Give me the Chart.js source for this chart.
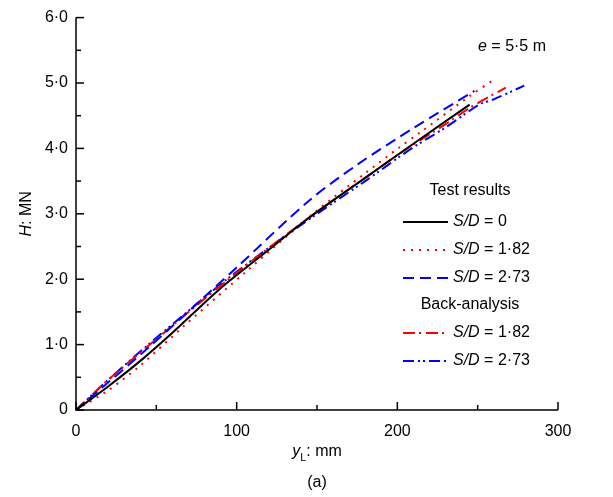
<!DOCTYPE html>
<html>
<head>
<meta charset="utf-8">
<script src="https://cdn.jsdelivr.net/npm/chart.js@4"></script>
<style>
  body { margin: 0; background: #fff; }
  canvas { display: block; }
</style>
</head>
<body>
<canvas id="chartCtx" width="613" height="497"></canvas>
<script>
// values: [y_L (mm), H (MN)]
var testSD0 = [[0,0],[20,0.36],[41,0.77],[60,1.18],[89,1.84],[120,2.45],[145,2.94],[180,3.55],[214,4.14],[245,4.67]]
var testSD182 = [[0,0],[20,0.30],[40,0.68],[67,1.28],[106,2.12],[150,3.05],[180,3.62],[201,4.01],[214,4.24],[245,4.80],[260,5.05]]
var testSD273 = [[0,0],[20,0.42],[45,0.95],[75,1.62],[100,2.18],[145,3.20],[175,3.75],[210,4.31],[248,4.88]]
var backSD182 = [[0,0],[20,0.46],[46,1.00],[79,1.68],[94,1.98],[120,2.48],[150,3.03],[180,3.55],[205,3.98],[230,4.37],[245,4.62],[267.5,4.93]]
var backSD273 = [[0,0],[20,0.46],[46,1.02],[79,1.70],[94,2.00],[120,2.48],[150,3.00],[180,3.50],[209.5,4.01],[230,4.32],[251,4.67],[260,4.75],[279,4.96]]

var xTicks = [0, 100, 200, 300]
var yTicks = ['0', '1·0', '2·0', '3·0', '4·0', '5·0', '6·0']
var legendGroups = ['Test results', 'Back-analysis']

var FONT = '"Liberation Sans", Arial, sans-serif'

function toPts(arr) {
    return arr.map(function(p) { return {x: p[0], y: p[1]} })
}

function series(label, data, color, dash, group) {
    return {
        label: label,
        group: group,
        data: toPts(data),
        showLine: true,
        borderColor: color,
        backgroundColor: color,
        borderWidth: 2,
        borderDash: dash,
        pointRadius: 0,
        tension: 0.3
    }
}

// axes, inward ticks, titles and the two-part legend
var overlay = {
    id: 'overlay',
    afterDraw: function(chart) {
        var ctx = chart.ctx
        var a = chart.chartArea
        var xs = chart.scales.x, ys = chart.scales.y
        ctx.save()
        ctx.strokeStyle = '#000'
        ctx.lineWidth = 1.5
        ctx.setLineDash([])
        ctx.beginPath()
        ctx.moveTo(a.left, a.top)
        ctx.lineTo(a.left, a.bottom)
        ctx.lineTo(a.right, a.bottom)
        ctx.stroke()
        for (var v = 0; v <= 300; v += 50) {
            var px = xs.getPixelForValue(v)
            var len = v % 100 === 0 ? 8 : 5
            ctx.beginPath(); ctx.moveTo(px, a.bottom); ctx.lineTo(px, a.bottom - len); ctx.stroke()
        }
        for (var w = 0; w <= 6; w += 0.5) {
            var py = ys.getPixelForValue(w)
            var l2 = w % 1 === 0 ? 8 : 5
            ctx.beginPath(); ctx.moveTo(a.left, py); ctx.lineTo(a.left + l2, py); ctx.stroke()
        }

        ctx.fillStyle = '#000'
        ctx.textBaseline = 'middle'
        var cx = (a.left + a.right) / 2
        // x title: y_L: mm
        ctx.font = 'italic 16px ' + FONT
        var w1 = ctx.measureText('y').width
        ctx.font = '11px ' + FONT
        var w2 = ctx.measureText('L').width
        ctx.font = '16px ' + FONT
        var w3 = ctx.measureText(': mm').width
        var sx = cx - (w1 + w2 + w3) / 2
        ctx.textAlign = 'left'
        ctx.font = 'italic 16px ' + FONT
        ctx.fillText('y', sx, 452)
        ctx.font = '11px ' + FONT
        ctx.fillText('L', sx + w1, 458)
        ctx.font = '16px ' + FONT
        ctx.fillText(': mm', sx + w1 + w2, 452)
        ctx.textAlign = 'center'
        ctx.fillText('(a)', cx, 483)

        // y title: H: MN
        ctx.save()
        ctx.translate(27, (a.top + a.bottom) / 2)
        ctx.rotate(-Math.PI / 2)
        ctx.font = 'italic 16px ' + FONT
        var h1 = ctx.measureText('H').width
        ctx.font = '16px ' + FONT
        var h2 = ctx.measureText(': MN').width
        ctx.textAlign = 'left'
        ctx.font = 'italic 16px ' + FONT
        ctx.fillText('H', -(h1 + h2) / 2, 0)
        ctx.font = '16px ' + FONT
        ctx.fillText(': MN', -(h1 + h2) / 2 + h1, 0)
        ctx.restore()

        // e = 5·5 m
        ctx.textAlign = 'left'
        ctx.font = 'italic 16px ' + FONT
        ctx.fillText('e', 478, 47)
        var ew = ctx.measureText('e').width
        ctx.font = '16px ' + FONT
        ctx.fillText(' = 5·5 m', 478 + ew, 47)

        // legend
        var rowY = [222, 250, 278, 333, 361]
        var headY = [191, 305]
        ctx.textAlign = 'center'
        ctx.font = '16px ' + FONT
        legendGroups.forEach(function(g, i) { ctx.fillText(g, 470, headY[i]) })
        chart.data.datasets.forEach(function(ds, i) {
            var y = rowY[i]
            ctx.strokeStyle = ds.borderColor
            ctx.lineWidth = 2
            ctx.setLineDash(ds.borderDash || [])
            ctx.beginPath(); ctx.moveTo(403, y); ctx.lineTo(448, y); ctx.stroke()
            ctx.setLineDash([])
            var parts = ds.label.split(' = ')
            ctx.textAlign = 'left'
            ctx.fillStyle = '#000'
            ctx.font = 'italic 16px ' + FONT
            ctx.fillText(parts[0], 453, y)
            var pw = ctx.measureText(parts[0]).width
            ctx.font = '16px ' + FONT
            ctx.fillText(' = ' + parts[1], 453 + pw, y)
        })
        ctx.restore()
    }
}

var ctx = document.getElementById('chartCtx')
new Chart(ctx, {
    type: 'scatter',
    data: {
        datasets: [
            series('S/D = 0', testSD0, '#000000', [], 0),
            series('S/D = 1·82', testSD182, '#ff0000', [2, 6], 0),
            series('S/D = 2·73', testSD273, '#0000ff', [11, 6], 0),
            series('S/D = 1·82', backSD182, '#ff0000', [12, 4, 2, 5], 1),
            series('S/D = 2·73', backSD273, '#0000ff', [11, 4, 2, 3, 2, 4], 1)
        ]
    },
    options: {
        responsive: false,
        animation: false,
        layout: { padding: { top: 16, right: 55, left: 0, bottom: 0 } },
        plugins: { legend: { display: false }, tooltip: { enabled: false } },
        scales: {
            x: {
                type: 'linear', min: 0, max: 300,
                afterFit: function(s) { s.height = 87 },
                afterBuildTicks: function(s) { s.ticks = xTicks.map(function(v) { return {value: v} }) },
                grid: { display: false, drawTicks: false },
                border: { display: false },
                ticks: { color: '#000', font: { family: FONT, size: 16 }, padding: 12, maxRotation: 0 }
            },
            y: {
                type: 'linear', min: 0, max: 6,
                afterFit: function(s) { s.width = 76 },
                grid: { display: false, drawTicks: false },
                border: { display: false },
                ticks: {
                    stepSize: 1, color: '#000', font: { family: FONT, size: 16 }, padding: 8,
                    callback: function(v) { return yTicks[Math.round(v)] }
                }
            }
        }
    },
    plugins: [overlay]
})
</script>
</body>
</html>
